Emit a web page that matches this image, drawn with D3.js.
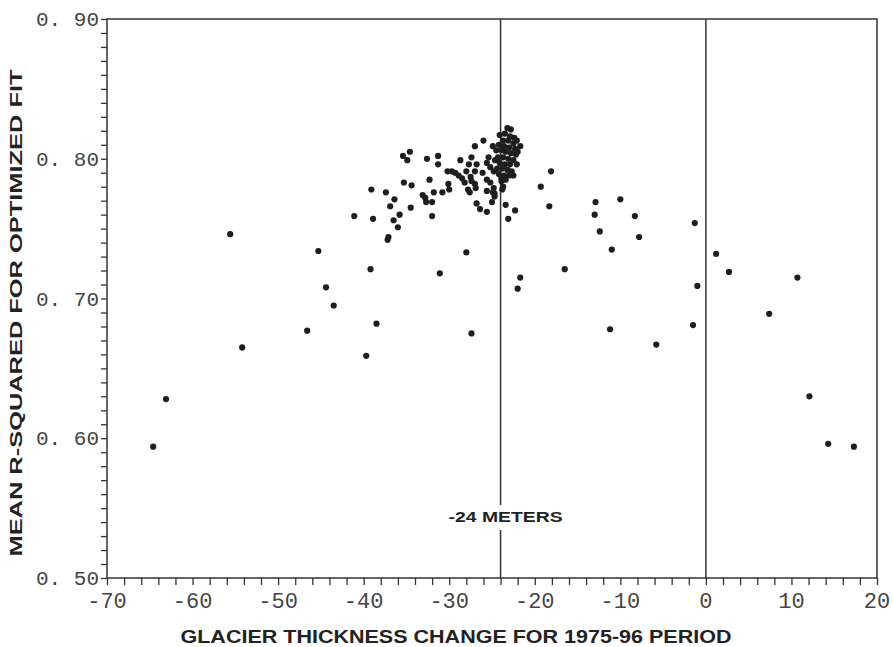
<!DOCTYPE html>
<html><head><meta charset="utf-8">
<script src="https://cdn.jsdelivr.net/npm/d3@7"></script>
<style>body{margin:0;background:#fff}</style>
</head><body>
<svg id="c" width="893" height="647"></svg>
<script>
const glacierChange = [-64.6,-63.1,-55.6,-54.2,-46.6,-45.3,-44.4,-43.5,-41.1,-39.7,-39.2,-38.5,-31.1,-39.1,-38.9,-37.4,-36.4,-36.9,-36.5,-35.8,-36.0,-37.2,-37.1,-35.3,-34.4,-34.5,-33.1,-32.8,-32.7,-32.0,-31.8,-30.8,-32.0,-32.3,-30.1,-30.0,-34.6,-35.4,-34.9,-32.6,-31.3,-31.3,-28.7,-27.4,-27.7,-26.8,-27.0,-26.0,-25.4,-25.6,-25.2,-30.2,-29.7,-29.3,-28.9,-28.5,-28.0,-27.0,-26.1,-27.5,-28.2,-27.4,-27.0,-27.8,-27.6,-25.6,-25.2,-25.6,-24.9,-25.0,-26.8,-26.4,-25.6,-24.7,-24.7,-23.9,-23.7,-23.4,-22.3,-23.1,-23.2,-21.7,-22.5,-22.1,-24.9,-23.8,-24.8,-26.9,-18.1,-19.3,-18.3,-12.9,-10.0,-13.0,-12.4,-8.3,-7.8,-11.0,-1.3,1.2,2.7,10.7,7.4,-1.0,-1.5,-11.2,-5.8,-16.5,-21.7,-22.0,12.1,14.3,17.3,-27.4,-28.0,
 -24.1,-23.5,-22.9,-22.4,-23.7,-23.1,-22.5,-24.2,-23.6,-23.0,-22.3,-23.9,-23.4,-22.8,-22.2,-24.3,-23.7,-23.1,-22.5,-24.1,-23.5,-22.9,-24.4,-23.8,-23.2,-22.7,-24.2,-23.6,-23.0,-23.9,-23.4,-24.5,-24.65,-22.0,-22.8,-22.1,-24.8];
const rSquared = [0.594,0.628,0.746,0.665,0.677,0.734,0.708,0.695,0.759,0.659,0.721,0.682,0.718,0.778,0.757,0.776,0.771,0.766,0.756,0.760,0.751,0.742,0.744,0.783,0.781,0.765,0.774,0.772,0.769,0.769,0.776,0.776,0.759,0.785,0.782,0.778,0.805,0.802,0.799,0.800,0.802,0.796,0.799,0.801,0.796,0.796,0.809,0.813,0.801,0.797,0.794,0.791,0.791,0.790,0.788,0.786,0.791,0.791,0.790,0.787,0.783,0.784,0.782,0.778,0.776,0.785,0.783,0.777,0.776,0.769,0.768,0.764,0.762,0.775,0.773,0.784,0.780,0.767,0.763,0.757,0.822,0.809,0.788,0.796,0.809,0.778,0.779,0.779,0.791,0.780,0.766,0.769,0.771,0.760,0.748,0.759,0.744,0.735,0.754,0.732,0.719,0.715,0.689,0.709,0.681,0.678,0.667,0.721,0.715,0.707,0.630,0.596,0.594,0.675,0.733,
 0.817,0.818,0.816,0.815,0.813,0.813,0.811,0.810,0.809,0.808,0.807,0.806,0.805,0.804,0.803,0.801,0.801,0.800,0.799,0.797,0.796,0.796,0.793,0.793,0.792,0.791,0.789,0.788,0.788,0.786,0.785,0.806,0.799,0.805,0.821,0.813,0.791];
const xTickValues = [-70,-60,-50,-40,-30,-20,-10,0,10,20];
const xTickLabels = ["-70","-60","-50","-40","-30","-20","-10","0","10","20"];
const yTickValues = [0.5,0.6,0.7,0.8,0.9];
const yTickLabels = ["0. 50","0. 60","0. 70","0. 80","0. 90"];
const refLines = [-24, 0];
const refLabel = "-24 METERS";
const xTitle = "GLACIER THICKNESS CHANGE FOR 1975-96 PERIOD";
const yTitle = "MEAN R-SQUARED FOR OPTIMIZED FIT";

const svg = d3.select("#c");
const L=107, R=877, T=19, B=578;
const x = d3.scaleLinear().domain([-70,20]).range([L,R]);
const y = d3.scaleLinear().domain([0.5,0.9]).range([B,T]);
const ink = "#333";

// minor ticks
const xMinor = d3.range(-70,20.001,2);
const yMinor = d3.range(50,90.001,1).map(v=>v/100);
const xAxis = d3.axisBottom(x).tickValues(xMinor).tickSize(7).tickFormat("");
const gx = svg.append("g").attr("transform",`translate(0,${B})`).call(xAxis);
gx.selectAll("line").attr("stroke",ink).attr("stroke-width",1.3);
gx.select(".domain").remove();
const yAxis = d3.axisLeft(y).tickValues(yMinor).tickSize(6).tickFormat("");
const gy = svg.append("g").attr("transform",`translate(${L},0)`).call(yAxis);
gy.selectAll("line").attr("stroke",ink).attr("stroke-width",1.3);
gy.select(".domain").remove();

// labels
svg.append("g").selectAll("text").data(xTickValues).join("text")
  .attr("x",d=>x(d)).attr("y",608).attr("text-anchor","middle")
  .attr("font-family","'Liberation Mono','DejaVu Sans Mono',monospace").attr("font-size",22)
  .attr("fill","#444").text((d,i)=>xTickLabels[i]);
svg.append("g").selectAll("text").data(yTickValues).join("text")
  .attr("x",99).attr("y",d=>y(d)+7).attr("text-anchor","end")
  .attr("font-family","'Liberation Mono','DejaVu Sans Mono',monospace").attr("font-size",21)
  .attr("fill","#444").text((d,i)=>yTickLabels[i]);

// frame
svg.append("rect").attr("x",L).attr("y",T).attr("width",R-L).attr("height",B-T)
  .attr("fill","none").attr("stroke",ink).attr("stroke-width",1.5);

// reference lines
svg.append("g").selectAll("line").data(refLines).join("line")
  .attr("x1",d=>x(d)).attr("x2",d=>x(d)).attr("y1",T).attr("y2",B)
  .attr("stroke",ink).attr("stroke-width",1.5);

// reference label with white background
svg.append("rect").attr("x",x(-24)-57).attr("y",505).attr("width",116).attr("height",25).attr("fill","#fff");
svg.append("text").attr("x",x(-24)+5).attr("y",522).attr("text-anchor","middle")
  .attr("font-family","'Liberation Sans',Arial,sans-serif").attr("font-weight","bold")
  .attr("font-size",14).attr("textLength",114).attr("lengthAdjust","spacingAndGlyphs")
  .attr("fill","#222").text(refLabel);

// points
svg.append("g").selectAll("circle").data(glacierChange).join("circle")
  .attr("cx",d=>x(d)).attr("cy",(d,i)=>y(rSquared[i])).attr("r",3.1)
  .attr("fill","#1e1e1e");

// titles
svg.append("text").attr("x",456).attr("y",643).attr("text-anchor","middle")
  .attr("font-family","'Liberation Sans Narrow','Liberation Sans',Arial,sans-serif").attr("font-weight","bold")
  .attr("font-size",19).attr("textLength",551).attr("lengthAdjust","spacingAndGlyphs")
  .attr("fill","#222").text(xTitle);
svg.append("text").attr("transform","translate(22,313) rotate(-90)").attr("text-anchor","middle")
  .attr("font-family","'Liberation Sans',Arial,sans-serif").attr("font-weight","bold")
  .attr("font-size",16).attr("textLength",487).attr("lengthAdjust","spacingAndGlyphs")
  .attr("fill","#222").text(yTitle);
</script>
</body></html>
